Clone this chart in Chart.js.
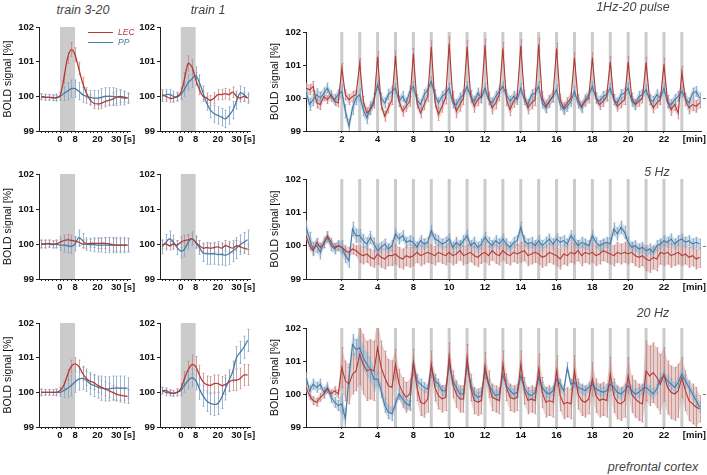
<!DOCTYPE html>
<html>
<head>
<meta charset="utf-8">
<script src="https://cdn.jsdelivr.net/npm/chart.js@4.4.0/dist/chart.umd.min.js"></script>
<style>
body { margin: 0; background: #fff; }
#fig { position: relative; width: 707px; height: 475px; overflow: hidden; background: #fff; font-family: "Liberation Sans", Arial, sans-serif; }
#fig canvas { position: absolute; }
.lbl { position: absolute; white-space: nowrap; font-style: italic; color: #444; font-size: 12.5px; transform: translate(-50%, -50%); }
.leg { position: absolute; height: 0; border-top: 1.3px solid; }
.legt { position: absolute; font-style: italic; font-size: 8.5px; transform: translateY(-50%); }
</style>
</head>
<body>
<div id="fig"></div>
<script>
// --- data: short traces (time in s) ---
const sT = [-10,-8,-6,-4,-2,0,2,4,6,8,10,12,14,16,18,20,22,24,26,28,30,32,34,36];
const sTicks = [-10,-8,-6,-4,-2,0,2,4,6,8,10,12,14,16,18,20,22,24,26,28,30,32,34,36,37];
const sTickLabels = {0: '0', 8: '8', 20: '20', 30: '30', 37: '[s]'};

// 1Hz-20 pulse
const a1Red  = [100.00,99.98,99.97,99.97,99.95,100.02,100.50,101.10,101.35,101.20,100.80,100.40,100.10,99.90,99.80,99.78,99.80,99.85,99.88,99.92,99.97,100.00,99.98,99.95];
const a1Blue = [99.98,99.97,99.97,99.95,99.97,100.00,100.08,100.15,100.22,100.22,100.15,100.05,100.00,99.97,99.95,99.95,99.97,100.00,100.00,100.00,99.98,99.97,99.95,99.95];
const a1RedErr  = [0.08,0.08,0.08,0.08,0.08,0.1,0.12,0.15,0.2,0.2,0.18,0.15,0.15,0.15,0.15,0.15,0.15,0.15,0.15,0.18,0.18,0.18,0.15,0.12];
const a1BlueErr = [0.08,0.08,0.08,0.08,0.1,0.12,0.2,0.25,0.25,0.25,0.25,0.22,0.2,0.2,0.22,0.22,0.25,0.25,0.25,0.25,0.25,0.22,0.2,0.15];
const b1Red  = [100.05,100.00,99.95,99.95,100.00,100.10,100.50,100.95,100.85,100.50,100.20,100.00,99.95,99.88,99.95,100.05,100.05,100.08,100.05,100.12,100.00,99.95,100.00,99.95];
const b1Blue = [100.00,100.05,100.05,100.00,99.98,100.05,100.20,100.40,100.50,100.60,100.40,100.10,99.80,99.60,99.50,99.45,99.40,99.35,99.45,99.60,99.85,100.10,100.05,99.95];
const b1RedErr  = [0.15,0.15,0.12,0.12,0.12,0.15,0.18,0.22,0.2,0.18,0.15,0.15,0.15,0.15,0.15,0.15,0.15,0.15,0.15,0.15,0.15,0.12,0.12,0.1];
const b1BlueErr = [0.15,0.15,0.15,0.15,0.12,0.15,0.2,0.22,0.25,0.25,0.22,0.2,0.2,0.22,0.25,0.25,0.25,0.25,0.25,0.25,0.22,0.2,0.2,0.15];

// 5 Hz
const a2Red  = [100.00,100.00,100.02,100.00,100.00,100.05,100.10,100.12,100.10,100.08,100.05,100.00,100.00,100.02,100.02,100.02,100.02,100.02,100.00,99.98,99.97,99.97,99.97,99.97];
const a2Blue = [100.00,100.00,100.00,99.98,100.00,99.97,99.97,99.95,99.93,100.00,100.18,100.10,100.00,99.98,99.98,99.97,99.97,99.97,99.97,99.97,99.97,99.97,99.97,99.97];
const a2RedErr  = [0.1,0.1,0.1,0.1,0.1,0.15,0.15,0.15,0.15,0.12,0.12,0.12,0.12,0.12,0.12,0.15,0.15,0.15,0.18,0.18,0.18,0.18,0.18,0.18];
const a2BlueErr = [0.12,0.12,0.1,0.1,0.12,0.15,0.2,0.2,0.2,0.2,0.22,0.2,0.18,0.18,0.2,0.2,0.2,0.22,0.22,0.22,0.22,0.22,0.22,0.2];
const b2Red  = [99.98,100.00,99.95,100.00,99.97,100.05,100.10,100.12,100.15,100.05,99.95,99.88,99.90,99.88,99.90,99.92,99.88,99.95,99.92,99.88,99.95,99.92,99.88,99.85];
const b2Blue = [99.92,100.05,100.15,100.05,99.90,99.80,99.85,100.05,100.15,100.05,99.90,99.75,99.72,99.72,99.72,99.70,99.70,99.68,99.72,99.80,99.88,99.98,100.05,100.12];
const b2RedErr  = [0.12,0.12,0.12,0.12,0.12,0.15,0.15,0.15,0.15,0.15,0.15,0.15,0.15,0.15,0.15,0.15,0.15,0.15,0.15,0.15,0.15,0.15,0.15,0.15];
const b2BlueErr = [0.2,0.22,0.22,0.2,0.2,0.2,0.2,0.2,0.2,0.18,0.2,0.25,0.3,0.3,0.3,0.3,0.3,0.3,0.3,0.3,0.3,0.28,0.28,0.28];

// 20 Hz
const a3Red  = [100.00,100.00,100.00,100.00,100.00,100.05,100.20,100.50,100.75,100.82,100.75,100.55,100.40,100.32,100.28,100.20,100.15,100.10,100.05,100.00,99.95,99.92,99.90,99.88];
const a3Blue = [100.00,100.00,100.00,100.00,100.00,100.00,100.05,100.12,100.20,100.30,100.38,100.40,100.35,100.25,100.20,100.15,100.12,100.10,100.10,100.12,100.12,100.12,100.12,100.12];
const a3RedErr  = [0.08,0.08,0.08,0.08,0.08,0.1,0.12,0.15,0.18,0.18,0.18,0.2,0.2,0.2,0.2,0.2,0.2,0.2,0.2,0.2,0.2,0.2,0.2,0.2];
const a3BlueErr = [0.1,0.08,0.08,0.08,0.1,0.12,0.2,0.25,0.3,0.3,0.32,0.32,0.32,0.32,0.32,0.32,0.35,0.35,0.35,0.35,0.35,0.35,0.35,0.3];
const b3Red  = [100.05,100.05,100.00,99.97,100.00,100.10,100.40,100.65,100.80,100.75,100.50,100.30,100.22,100.20,100.25,100.25,100.20,100.22,100.30,100.35,100.35,100.40,100.50,100.50];
const b3Blue = [100.05,100.00,99.98,99.97,100.00,100.05,100.20,100.35,100.42,100.35,100.10,99.90,99.75,99.68,99.65,99.68,99.85,100.10,100.35,100.60,101.00,101.15,101.30,101.50];
const b3RedErr  = [0.08,0.08,0.08,0.08,0.1,0.15,0.2,0.25,0.28,0.28,0.28,0.25,0.25,0.25,0.25,0.25,0.25,0.28,0.28,0.3,0.3,0.3,0.3,0.3];
const b3BlueErr = [0.1,0.1,0.08,0.08,0.1,0.15,0.2,0.25,0.25,0.28,0.3,0.3,0.3,0.32,0.32,0.32,0.32,0.32,0.3,0.3,0.32,0.32,0.32,0.32];

// --- data: long traces, one sample every 0.2 stimulus intervals, 0 .. 22 ---
const wStep = 0.2;
const stimTimes = [2,3,4,5,6,7,8,9,10,11,12,13,14,15,16,17,18,19,20,21];
const wTicks = [2,4,6,8,10,12,14,16,18,20,21.7];
const wTickLabels = ['2','4','8','10','12','14','16','18','20','22','[min]'];

const w1Red = [100.30,100.25,100.35,99.85,99.80, 100.05,99.95,100.10,99.90,99.85,
  100.90,100.10,99.95,100.05,100.10, 101.05,99.90,99.55,99.65,99.85,
  101.25,99.80,99.45,99.70,99.95, 101.27,99.90,99.60,99.75,99.90,
  101.35,99.85,99.55,99.80,100.05, 101.55,99.90,99.50,99.75,100.00,
  101.65,100.00,99.60,99.80,100.00, 101.55,100.05,99.75,99.95,100.05,
  101.60,100.00,99.70,99.85,100.10, 101.50,99.95,99.65,99.90,100.05,
  101.58,100.05,99.70,99.85,99.95, 101.62,100.00,99.75,99.90,100.05,
  101.50,99.95,99.70,99.85,100.00, 101.22,99.95,99.75,99.90,100.00,
  101.22,100.00,99.80,99.90,100.05, 101.10,99.95,99.75,99.85,99.95,
  101.10,100.00,99.80,99.90,100.00, 101.08,99.95,99.70,99.85,99.95,
  101.02,99.90,99.65,99.80,99.55, 100.78,99.95,99.70,99.80,99.75, 99.85];
const w1Blue = [100.20,99.80,99.95,100.10,100.00, 100.15,100.30,100.05,99.95,100.10,
  100.20,99.60,99.15,99.70,100.00, 100.10,99.65,99.40,99.70,99.95,
  100.40,100.00,99.85,100.10,100.20, 100.30,99.90,100.05,99.85,100.20,
  100.35,99.95,99.80,100.10,100.25, 100.50,100.10,99.85,100.05,100.15,
  100.30,99.85,99.80,100.00,100.10, 100.35,100.05,99.90,100.15,100.00,
  100.30,99.95,99.85,100.05,100.20, 100.35,100.10,99.90,100.05,99.95,
  100.30,99.95,99.80,100.10,100.15, 100.35,99.85,99.70,99.90,100.05,
  100.25,99.80,99.65,99.75,99.90, 100.20,99.85,99.70,99.95,100.10,
  100.35,100.00,99.90,100.05,100.10, 100.30,99.95,99.85,100.10,100.15,
  100.30,99.90,99.80,100.05,100.10, 100.25,99.95,99.90,100.10,100.00,
  100.30,99.85,99.80,99.95,100.05, 100.20,100.00,99.85,100.15,100.20, 100.00];
const w1RedErr  = [0.15,0.12,0.15,0.15,0.15,0.15,0.15,0.18,0.2,0.18,0.18,0.18,0.18,0.18,0.16,0.15,0.15,0.15,0.15,0.15,0.18,0.18,0.15];
const w1BlueErr = [0.18,0.15,0.2,0.18,0.15,0.15,0.15,0.15,0.15,0.15,0.15,0.15,0.15,0.15,0.15,0.15,0.15,0.15,0.15,0.15,0.15,0.15,0.15];

const w2Red = [100.30,100.00,99.85,100.10,99.95, 100.05,100.30,100.10,99.95,100.00,
  99.95,99.85,99.80,99.90,99.85, 99.75,99.70,99.75,99.65,99.60,
  99.75,99.65,99.60,99.70,99.70, 99.75,99.65,99.60,99.70,99.65,
  99.70,99.80,99.70,99.75,99.80, 99.75,99.70,99.80,99.75,99.70,
  99.80,99.70,99.75,99.85,99.70, 99.75,99.80,99.70,99.65,99.75,
  99.80,99.70,99.85,99.75,99.70, 99.85,99.75,99.70,99.80,99.75,
  99.80,99.85,99.70,99.75,99.80, 99.75,99.65,99.70,99.80,99.75,
  99.70,99.60,99.75,99.70,99.80, 99.75,99.85,99.70,99.80,99.75,
  99.80,99.70,99.75,99.85,99.80, 99.75,99.70,99.80,99.75,99.80,
  99.75,99.80,99.70,99.65,99.70, 99.60,99.55,99.65,99.60,99.80,
  99.75,99.80,99.70,99.75,99.80, 99.70,99.75,99.65,99.70,99.60, 99.65];
const w2Blue = [100.55,100.20,99.90,100.00,99.80, 100.10,100.25,100.00,99.90,100.00,
  99.95,99.70,99.55,100.50,100.30, 100.30,100.15,100.05,100.25,100.05,
  99.85,99.95,100.05,99.90,100.00, 100.35,100.20,100.30,100.10,100.15,
  100.10,99.95,100.15,100.05,100.10, 100.45,100.20,100.15,100.05,100.10,
  100.20,99.95,100.10,100.00,100.15, 100.30,100.00,100.10,99.95,100.05,
  100.25,100.10,100.00,100.15,100.05, 100.20,100.05,99.95,100.10,100.15,
  100.55,100.15,100.05,100.10,100.00, 100.15,100.00,100.10,100.20,100.05,
  100.20,100.10,100.15,100.05,100.30, 100.15,100.00,100.10,100.05,100.00,
  100.30,100.10,100.00,100.05,100.10, 100.05,100.50,100.35,100.55,100.40,
  100.10,99.95,100.00,99.90,99.95, 99.85,99.90,99.80,100.00,100.05,
  100.15,100.10,100.20,100.05,100.15, 100.20,100.10,100.15,100.05,100.10, 100.05];
const w2RedErr  = [0.12,0.12,0.15,0.25,0.3,0.3,0.3,0.28,0.28,0.28,0.28,0.28,0.3,0.3,0.3,0.3,0.3,0.3,0.3,0.35,0.35,0.3,0.3];
const w2BlueErr = [0.2,0.15,0.2,0.18,0.15,0.15,0.15,0.15,0.15,0.15,0.15,0.15,0.15,0.15,0.15,0.15,0.15,0.18,0.15,0.15,0.15,0.15,0.15];

const w3Red = [100.20,99.95,99.80,99.75,99.90, 100.00,100.15,100.00,100.10,100.00,
  100.80,100.40,100.30,100.60,100.70, 101.20,100.90,100.70,100.75,100.70,
  101.40,100.80,100.50,100.25,100.20, 100.90,100.30,100.05,99.90,100.00,
  100.95,100.20,99.75,99.70,99.85, 100.90,100.20,99.95,99.85,99.90,
  101.15,100.30,100.00,99.85,99.85, 101.10,100.20,99.80,99.75,99.80,
  100.85,100.30,99.90,99.85,99.80, 100.90,100.20,99.90,99.85,99.90,
  100.90,100.10,99.80,99.85,99.80, 100.75,100.05,99.75,99.80,99.75,
  100.70,99.95,99.70,99.75,99.70, 100.70,100.00,99.80,99.75,99.85,
  100.45,99.95,99.80,99.85,99.80, 100.60,99.95,99.75,99.70,99.80,
  100.55,100.00,99.85,99.75,99.70, 100.70,100.55,100.65,100.50,100.30,
  100.60,100.20,100.05,100.00,100.10, 100.50,100.10,99.80,99.70,99.60, 99.55];
const w3Blue = [100.50,100.10,100.30,100.20,100.30, 100.05,100.20,99.90,99.75,99.65,
  99.70,99.25,100.50,101.50,101.35, 101.40,101.10,100.90,100.75,100.45,
  100.45,100.10,99.65,99.45,99.40, 99.70,100.00,99.85,99.70,99.65,
  100.95,100.40,100.30,100.20,100.15, 100.80,100.40,100.30,100.10,100.10,
  100.90,100.40,100.20,100.00,100.00, 100.90,100.30,100.00,99.90,99.95,
  100.70,100.30,100.10,99.95,100.00, 100.60,100.25,100.10,100.00,100.05,
  100.55,100.20,100.00,99.95,100.05, 100.50,100.20,100.05,100.00,100.10,
  100.45,100.30,100.10,100.80,100.30, 100.35,100.20,100.15,100.10,100.20,
  100.30,100.15,100.10,100.05,100.10, 100.30,100.20,100.05,100.00,100.10,
  100.25,100.10,100.00,100.05,100.15, 100.20,100.10,100.00,100.15,100.45,
  100.55,100.40,100.30,100.20,100.35, 100.60,100.40,100.20,100.00,99.80, 99.60];
const w3RedErr  = [0.12,0.12,0.6,0.9,0.8,0.45,0.4,0.4,0.4,0.4,0.4,0.4,0.4,0.45,0.45,0.45,0.5,0.5,0.55,0.9,0.8,0.6,0.4];
const w3BlueErr = [0.15,0.15,0.3,0.35,0.2,0.15,0.15,0.15,0.15,0.15,0.15,0.15,0.15,0.15,0.15,0.15,0.15,0.15,0.15,0.15,0.15,0.15,0.15];

const yTicks = [99, 100, 101, 102];
const RED = '#b33a35', BLUE = '#4a7aa3';
const RED_ERR = 'rgba(200,130,130,0.75)', BLUE_ERR = 'rgba(130,165,200,0.8)';
const RED_BAND = 'rgba(205,150,145,0.45)', BLUE_BAND = 'rgba(140,175,205,0.45)';
const FONT = '"Liberation Sans", Arial, sans-serif';

const fig = document.getElementById('fig');

// stimulus shading + error bars, drawn under the lines
const underlay = {
  id: 'underlay',
  beforeDatasetsDraw(chart, args, opts) {
    const {ctx, chartArea: a, scales: {x, y}} = chart;
    ctx.save();
    ctx.fillStyle = '#cbcbcb';
    if (opts.block) {
      const x0 = x.getPixelForValue(opts.block[0]), x1 = x.getPixelForValue(opts.block[1]);
      ctx.fillRect(x0, a.top, x1 - x0, a.bottom - a.top);
    }
    (opts.lines || []).forEach(t => {
      const px = x.getPixelForValue(t);
      ctx.fillRect(px - 1.5, a.top, 3, a.bottom - a.top);
    });
    ctx.beginPath();
    ctx.rect(a.left, a.top, a.right - a.left, a.bottom - a.top);
    ctx.clip();
    ctx.lineWidth = 1;
    chart.data.datasets.forEach(ds => {
      if (opts.band) {
        // shaded spread between the error bar ends
        ctx.fillStyle = ds.bandColor;
        ctx.beginPath();
        ds.data.forEach((p, i) => {
          const px = x.getPixelForValue(p.x), py = y.getPixelForValue(p.y + ds.errs[i]);
          if (i === 0) ctx.moveTo(px, py); else ctx.lineTo(px, py);
        });
        for (let i = ds.data.length - 1; i >= 0; i--) {
          const p = ds.data[i];
          ctx.lineTo(x.getPixelForValue(p.x), y.getPixelForValue(p.y - ds.errs[i]));
        }
        ctx.closePath();
        ctx.fill();
      }
      ctx.strokeStyle = ds.errColor;
      ctx.beginPath();
      ds.data.forEach((p, i) => {
        const px = Math.round(x.getPixelForValue(p.x)) + 0.5;
        const y0 = y.getPixelForValue(p.y - ds.errs[i]);
        const y1 = y.getPixelForValue(p.y + ds.errs[i]);
        ctx.moveTo(px, y0); ctx.lineTo(px, y1);
        ctx.moveTo(px - 1, y0); ctx.lineTo(px + 1, y0);
        ctx.moveTo(px - 1, y1); ctx.lineTo(px + 1, y1);
      });
      ctx.stroke();
    });
    ctx.restore();
    if (opts.rightDash) {
      const py = Math.round(y.getPixelForValue(100)) + 0.5;
      ctx.save();
      ctx.strokeStyle = '#777';
      ctx.beginPath(); ctx.moveTo(a.right + 2, py); ctx.lineTo(a.right + 5, py); ctx.stroke();
      ctx.restore();
    }
  }
};

function series(xs, ys, errs, color, errColor, bandColor, width, tension) {
  return {
    data: ys.map((v, i) => ({x: xs[i], y: v})),
    errs: errs,
    errColor: errColor,
    bandColor: bandColor,
    borderColor: color,
    borderWidth: width,
    pointRadius: 0,
    tension: tension,
    fill: false
  };
}

function panel(box, datasets, xOpt, plug, yTitle) {
  const axisW = 39, axisH = 20, padTop = 8, padR = 8;
  const w = box.r - box.l + axisW + padR, h = box.b - box.t + padTop + axisH;
  const c = document.createElement('canvas');
  c.width = w; c.height = h;
  c.style.left = (box.l - axisW) + 'px';
  c.style.top = (box.t - padTop) + 'px';
  c.style.width = w + 'px'; c.style.height = h + 'px';
  fig.appendChild(c);
  new Chart(c, {
    type: 'line',
    data: {datasets: datasets},
    plugins: [underlay],
    options: {
      responsive: false, animation: false, devicePixelRatio: 1,
      layout: {padding: {left: 0, top: padTop, right: padR, bottom: 0}},
      plugins: {legend: {display: false}, tooltip: {enabled: false}, underlay: plug},
      scales: {
        x: {
          type: 'linear', min: xOpt.min, max: xOpt.max,
          afterBuildTicks: s => { s.ticks = xOpt.ticks.map(v => ({value: v})); },
          afterFit: s => { s.height = axisH; },
          border: {color: '#222', width: 1},
          grid: {drawOnChartArea: false, tickLength: 2,
                 color: ctx => (ctx.tick && xOpt.label(ctx.tick.value).startsWith('[')) ? 'rgba(0,0,0,0)' : '#222'},
          ticks: {autoSkip: false, maxRotation: 0, padding: 1, color: '#111',
                  font: {family: FONT, size: 9.5, weight: 'bold'},
                  callback: v => xOpt.label(v)}
        },
        y: {
          min: 99, max: 102,
          afterBuildTicks: s => { s.ticks = yTicks.map(v => ({value: v})); },
          afterFit: s => { s.width = axisW; },
          border: {color: '#222', width: 1},
          grid: {drawOnChartArea: false, tickLength: 3, color: '#222'},
          ticks: {padding: 2, color: '#111', font: {family: FONT, size: 9.5, weight: 'bold'}},
          title: {display: !!yTitle, text: 'BOLD signal [%]', color: '#111',
                  font: {family: FONT, size: 10.5}, padding: {top: 2, bottom: 0}}
        }
      }
    }
  });
}

const smallX = {min: -11.2, max: 37.3, ticks: sTicks, label: v => sTickLabels[v] || ''};
const wideX = {min: 0, max: 22.07, ticks: wTicks, label: v => wTickLabels[wTicks.indexOf(v)] || ''};
const wT = w1Red.map((v, i) => i * wStep);
const perMin = errs => wT.map(t => errs[Math.floor(t + 1e-6)]);

const rows = [
  {t: 27, b: 131, wt: 32, a: [a1Red, a1Blue, a1RedErr, a1BlueErr], bb: [b1Red, b1Blue, b1RedErr, b1BlueErr], w: [w1Red, w1Blue, w1RedErr, w1BlueErr]},
  {t: 174, b: 279, wt: 179, a: [a2Red, a2Blue, a2RedErr, a2BlueErr], bb: [b2Red, b2Blue, b2RedErr, b2BlueErr], w: [w2Red, w2Blue, w2RedErr, w2BlueErr]},
  {t: 323, b: 427, wt: 328, a: [a3Red, a3Blue, a3RedErr, a3BlueErr], bb: [b3Red, b3Blue, b3RedErr, b3BlueErr], w: [w3Red, w3Blue, w3RedErr, w3BlueErr]}
];

rows.forEach(r => {
  panel({l: 39, r: 130, t: r.t, b: r.b},
    [series(sT, r.a[0], r.a[2], RED, RED_ERR, RED_BAND, 1.3, 0.35), series(sT, r.a[1], r.a[3], BLUE, BLUE_ERR, BLUE_BAND, 1.3, 0.35)],
    smallX, {block: [0, 8]}, true);
  panel({l: 160, r: 250, t: r.t, b: r.b},
    [series(sT, r.bb[0], r.bb[2], RED, RED_ERR, RED_BAND, 1.3, 0.35), series(sT, r.bb[1], r.bb[3], BLUE, BLUE_ERR, BLUE_BAND, 1.3, 0.35)],
    smallX, {block: [0, 8]}, false);
  panel({l: 306, r: 701, t: r.wt, b: r.b},
    [series(wT, r.w[0], perMin(r.w[2]), RED, RED_ERR, RED_BAND, 1.1, 0), series(wT, r.w[1], perMin(r.w[3]), BLUE, BLUE_ERR, BLUE_BAND, 1.1, 0)],
    wideX, {lines: stimTimes, rightDash: true, band: true}, true);
});

// titles and legend
function label(text, x, y) {
  const d = document.createElement('div');
  d.className = 'lbl'; d.textContent = text;
  d.style.left = x + 'px'; d.style.top = y + 'px';
  fig.appendChild(d);
}
label('train 3-20', 83, 10);
label('train 1', 208, 10);
label('1Hz-20 pulse', 633, 7);
label('5 Hz', 657, 172);
label('20 Hz', 653, 313);
label('prefrontal cortex', 653, 467);

[['LEC', RED, 32], ['PP', BLUE, 42]].forEach(([txt, col, y]) => {
  const l = document.createElement('div');
  l.className = 'leg'; l.style.left = '88px'; l.style.top = y + 'px'; l.style.width = '25px'; l.style.borderColor = col;
  fig.appendChild(l);
  const t = document.createElement('div');
  t.className = 'legt'; t.textContent = txt; t.style.left = '118px'; t.style.top = y + 'px'; t.style.color = col;
  fig.appendChild(t);
});
</script>
</body>
</html>
